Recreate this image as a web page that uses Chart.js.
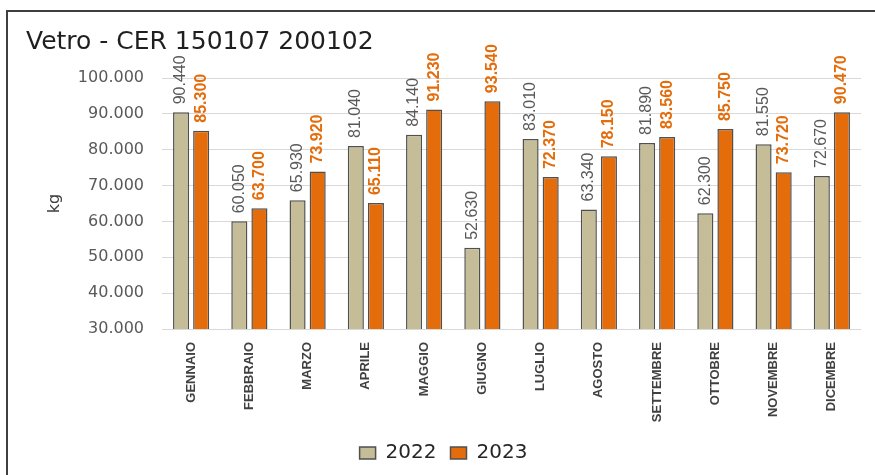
<!DOCTYPE html>
<html>
<head>
<meta charset="utf-8">
<script src="https://cdn.jsdelivr.net/npm/chart.js@4/dist/chart.umd.min.js"></script>
<style>
    html, body { margin: 0; padding: 0; background: #fff; }
    #wrap { position: relative; width: 875px; height: 475px; }
    #frame { position: absolute; left: 6px; top: 10px; width: 867px; height: 465px; border-top: 2px solid #3f3f3f; border-left: 2px solid #3f3f3f; }
    #myChart { position: absolute; left: 0; top: 0; }
</style>
</head>
<body>
<div id="wrap">
    <div id="frame"></div>
    <canvas id="myChart" width="875" height="475"></canvas>
</div>
<script>
'use strict';

const months = ['GENNAIO', 'FEBBRAIO', 'MARZO', 'APRILE', 'MAGGIO', 'GIUGNO', 'LUGLIO', 'AGOSTO', 'SETTEMBRE', 'OTTOBRE', 'NOVEMBRE', 'DICEMBRE'];
const kg2022 = [90440, 60050, 65930, 81040, 84140, 52630, 83010, 63340, 81890, 62300, 81550, 72670];
const kg2023 = [85300, 63700, 73920, 65110, 91230, 93540, 72370, 78150, 83560, 85750, 73720, 90470];
const yTicks = [30000, 40000, 50000, 60000, 70000, 80000, 90000, 100000];

const sans = "'Liberation Sans', Arial, sans-serif";
const wide = "'DejaVu Sans', Verdana, sans-serif";

// 90440 -> "90.440"
const fmt = (n) => String(n).replace(/\B(?=(\d{3})+(?!\d))/g, '.');

// value labels, rotated, drawn above every bar
const barLabels = {
    'id': 'barLabels',
    afterDatasetsDraw(chart) {
        const ctx = chart.ctx;
        chart.data.datasets.forEach((ds, i) => {
            const meta = chart.getDatasetMeta(i);
            ctx.save();
            ctx.fillStyle = ds.labelColor;
            ctx.font = ds.labelFont;
            ctx.textAlign = 'left';
            ctx.textBaseline = 'middle';
            meta.data.forEach((bar, j) => {
                ctx.save();
                ctx.translate(bar.x, bar.y - 8);
                ctx.rotate(-Math.PI / 2);
                ctx.fillText(fmt(ds.data[j]), 0, 0);
                ctx.restore();
            });
            ctx.restore();
        });
    }
};

const ctx = document.getElementById('myChart').getContext('2d');
const chart = new Chart(ctx, {
    'type': 'bar',
    'data': {
        'labels': months,
        'datasets': [
            {
                'label': '2022',
                'data': kg2022,
                'backgroundColor': '#C4BD97',
                'borderColor': '#505050',
                'borderWidth': 1.5,
                'labelColor': '#595959',
                'labelFont': '16px ' + sans
            },
            {
                'label': '2023',
                'data': kg2023,
                'backgroundColor': '#E46C0A',
                'borderColor': '#505050',
                'borderWidth': 1.5,
                'labelColor': '#E46C0A',
                'labelFont': 'bold 16px ' + sans
            }
        ]
    },
    'options': {
        'responsive': false,
        'animation': false,
        'barPercentage': 0.8,
        'categoryPercentage': 0.69,
        'layout': {
            'padding': {'left': 26, 'right': 14, 'top': 0, 'bottom': 2}
        },
        'scales': {
            'x': {
                'grid': {'display': false, 'drawTicks': false},
                'border': {'display': false},
                'ticks': {
                    'autoSkip': false,
                    'minRotation': 90,
                    'maxRotation': 90,
                    'padding': 13,
                    'color': '#404040',
                    'font': {'family': sans, 'size': 13, 'weight': 'bold'}
                },
                afterFit(scale) {
                    scale.height = 100;
                }
            },
            'y': {
                'min': 30000,
                'max': 100000,
                'afterBuildTicks': (scale) => {
                    scale.ticks = yTicks.map((v) => ({'value': v}));
                },
                'grid': {'color': '#d9d9d9', 'lineWidth': 1, 'drawTicks': false},
                'border': {'display': false},
                'ticks': {
                    'padding': 18,
                    'color': '#595959',
                    'font': {'family': wide, 'size': 16},
                    'callback': (v) => fmt(v)
                },
                'title': {
                    'display': true,
                    'text': 'kg',
                    'color': '#404040',
                    'padding': {'top': 19, 'bottom': 0},
                    'font': {'family': wide, 'size': 16}
                },
                afterFit(scale) {
                    scale.width = 136;
                }
            }
        },
        'plugins': {
            'title': {
                'display': true,
                'text': 'Vetro - CER 150107 200102',
                'align': 'start',
                'color': '#1f1f1f',
                'padding': {'top': 27, 'bottom': 21},
                'font': {'family': wide, 'size': 25, 'weight': 'normal', 'lineHeight': 1.2}
            },
            'legend': {
                'position': 'bottom',
                'labels': {
                    'boxWidth': 16,
                    'boxHeight': 12,
                    'padding': 14,
                    'color': '#262626',
                    'font': {'family': wide, 'size': 20}
                }
            },
            'tooltip': {'enabled': false}
        }
    },
    'plugins': [barLabels]
});
</script>
</body>
</html>
